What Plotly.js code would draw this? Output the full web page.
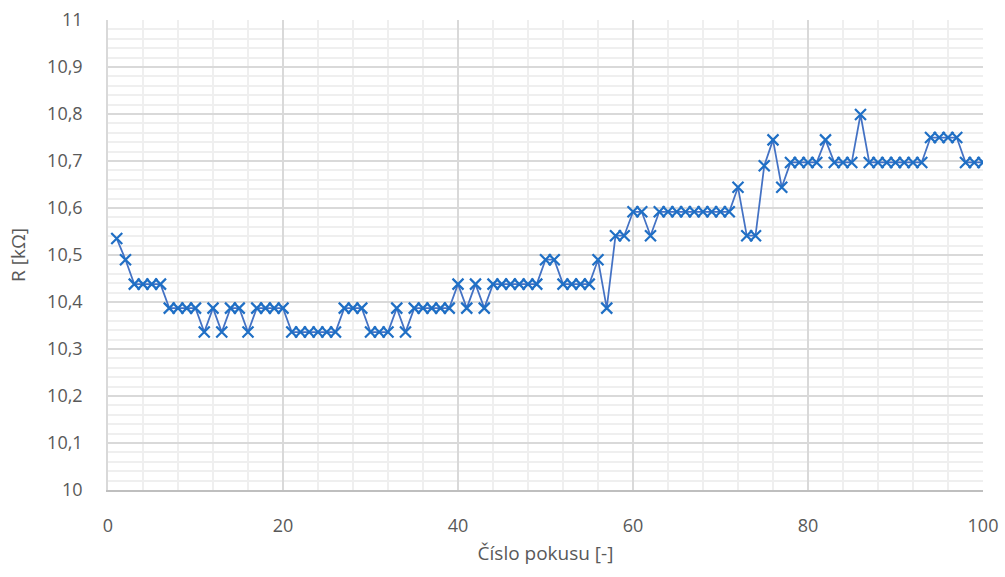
<!DOCTYPE html>
<html>
<head>
<meta charset="utf-8">
<script src="https://cdn.plot.ly/plotly-3.0.1.min.js"></script>
<style>html,body{margin:0;padding:0;background:#fff;}#chart{width:1005px;height:577px;}</style>
</head>
<body>
<div id="chart"></div>
<script>
const trialNumbers = [];
for (let i = 1; i <= 100; i++) trialNumbers.push(i);

const resistance = [
  10.535, 10.490, 10.438, 10.438, 10.438, 10.438, 10.387, 10.387, 10.387, 10.387,
  10.336, 10.387, 10.336, 10.387, 10.387, 10.336, 10.387, 10.387, 10.387, 10.387,
  10.336, 10.336, 10.336, 10.336, 10.336, 10.336, 10.387, 10.387, 10.387, 10.336,
  10.336, 10.336, 10.387, 10.336, 10.387, 10.387, 10.387, 10.387, 10.387, 10.438,
  10.387, 10.438, 10.387, 10.438, 10.438, 10.438, 10.438, 10.438, 10.438, 10.490,
  10.490, 10.438, 10.438, 10.438, 10.438, 10.490, 10.387, 10.541, 10.541, 10.592,
  10.592, 10.541, 10.592, 10.592, 10.592, 10.592, 10.592, 10.592, 10.592, 10.592,
  10.592, 10.644, 10.541, 10.541, 10.690, 10.745, 10.644, 10.697, 10.697, 10.697,
  10.697, 10.745, 10.697, 10.697, 10.697, 10.799, 10.697, 10.697, 10.697, 10.697,
  10.697, 10.697, 10.697, 10.750, 10.750, 10.750, 10.750, 10.697, 10.697, 10.697
];

const xTitle = 'Číslo pokusu [-]';
const yTitle = 'R [kΩ]';

const font = 'Open Sans, Noto Sans, sans-serif';

Plotly.newPlot('chart', [{
  x: trialNumbers,
  y: resistance,
  type: 'scatter',
  mode: 'lines+markers',
  line: {color: '#4472C4', width: 1.75},
  marker: {symbol: 'x-thin-open', size: 11, line: {color: '#1f6fc5', width: 2.2}, color: '#1f6fc5'},
  hoverinfo: 'x+y'
}], {
  width: 1005,
  height: 577,
  margin: {l: 108, r: 22, t: 20, b: 87},
  paper_bgcolor: '#ffffff',
  plot_bgcolor: '#ffffff',
  separators: ', ',
  showlegend: false,
  font: {family: font, color: '#595959', size: 18},
  xaxis: {
    range: [0, 100],
    dtick: 20,
    tick0: 0,
    showgrid: true,
    gridcolor: '#d9d9d9',
    gridwidth: 1.5,
    zeroline: false,
    showline: true,
    linecolor: '#bfbfbf',
    linewidth: 1.5,
    ticks: '',
    ticklabelstandoff: 19,
    tickfont: {size: 18, color: '#595959', family: font},
    minor: {dtick: 4, showgrid: true, gridcolor: '#efefef', gridwidth: 1.5},
    title: {text: xTitle, font: {size: 19, color: '#595959', family: font}, standoff: 10}
  },
  yaxis: {
    range: [10, 11],
    dtick: 0.1,
    tick0: 10,
    showgrid: true,
    gridcolor: '#d9d9d9',
    gridwidth: 1.5,
    zeroline: false,
    showline: true,
    linecolor: '#d9d9d9',
    linewidth: 1.5,
    ticks: '',
    ticklabelstandoff: 20,
    tickfont: {size: 18, color: '#595959', family: font},
    minor: {dtick: 0.02, showgrid: true, gridcolor: '#efefef', gridwidth: 1.5},
    title: {text: yTitle, font: {size: 19, color: '#595959', family: font}, standoff: 16}
  }
}, {displayModeBar: false});
</script>
</body>
</html>
